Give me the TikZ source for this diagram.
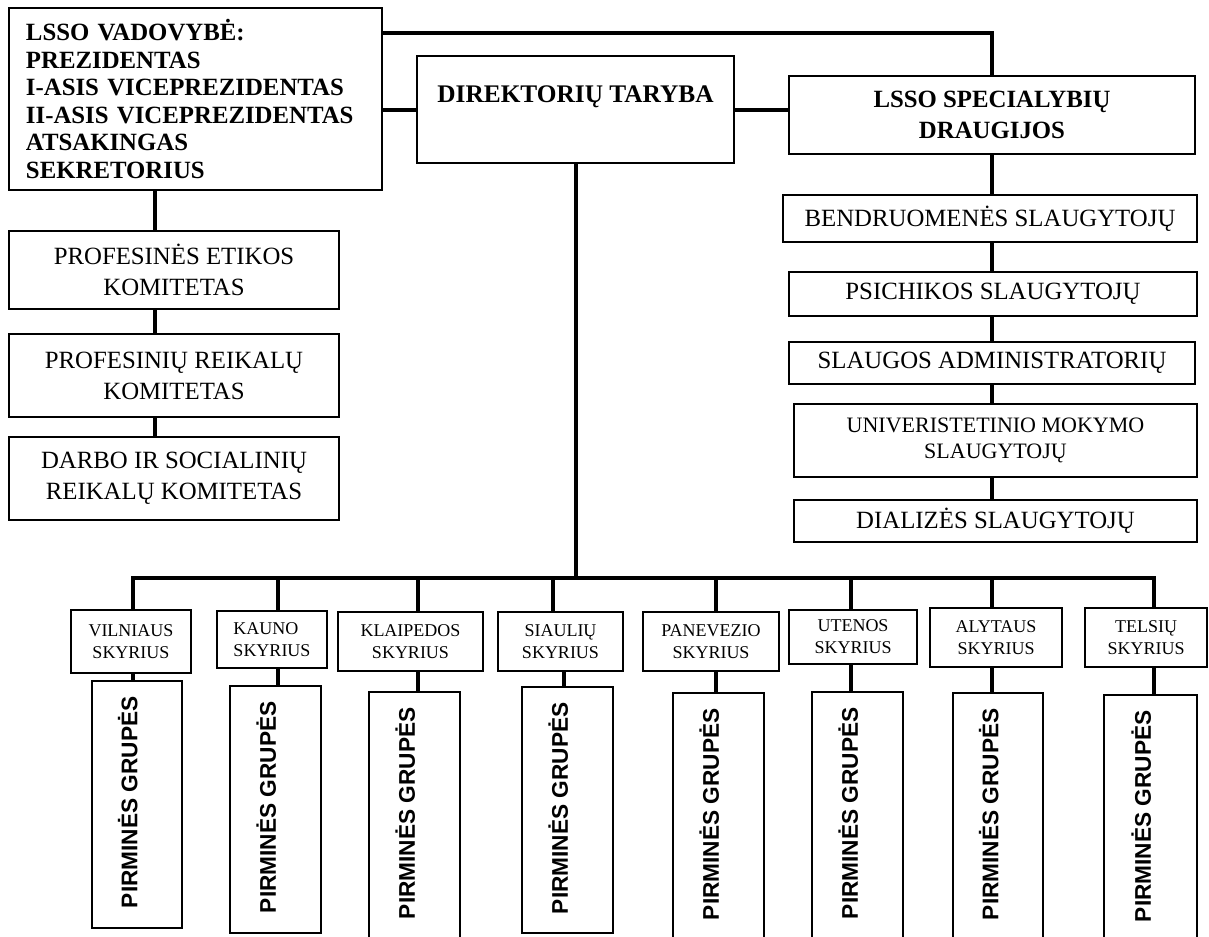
\documentclass[tikz,border=0pt]{standalone}
\usepackage{fontspec}
\setmainfont{Liberation Serif}
\newfontfamily\arialf{Liberation Sans}
\newcommand\boxat[7][]{\node[bx,minimum width={(#5-#3)*0.75pt},minimum height={(#6-#4)*0.75pt},#1] (#2) at ({(#3+#5)/2},{(#4+#6)/2}) {#7};}
\tikzset{
  bx/.style={draw=black, line width=1.1pt, inner sep=0pt, align=center},
  conn/.style={draw=black, line width=3pt, line join=miter},
  bigbold/.style={font=\fontsize{18.6pt}{23.25pt}\selectfont\bfseries},
  reg/.style={font=\fontsize{18.6pt}{23.25pt}\selectfont},
  small/.style={font=\fontsize{13.5pt}{16.5pt}\selectfont},
  rot/.style={font=\fontsize{17pt}{20pt}\arialf\bfseries, rotate=90, inner sep=0pt},
}
\begin{document}
\begin{tikzpicture}[x=0.75pt,y=-0.75pt]
\useasboundingbox (0,0) rectangle (1209,936);
\clip (0,0) rectangle (1209,936);

% top level
\boxat[text width={339*0.75pt}, align=left, font=\fontsize{18.6pt}{20.6pt}\selectfont\bfseries]{tl}{9}{8}{382}{190}{LSSO VADOVYBĖ:\\PREZIDENTAS\\I-ASIS VICEPREZIDENTAS\\II-ASIS VICEPREZIDENTAS\\ATSAKINGAS\\SEKRETORIUS}
\boxat{dt}{417}{56}{734}{163}{}
\node[font=\fontsize{19pt}{22pt}\selectfont\bfseries, inner sep=0pt] (dtt) at (575.5,97) {DIREKTORIŲ TARYBA};
\boxat[bigbold]{spec}{789}{76}{1195}{154}{LSSO SPECIALYBIŲ\\DRAUGIJOS}

% right column
\boxat[reg]{ben}{783}{195}{1197}{242}{BENDRUOMENĖS SLAUGYTOJŲ}
\boxat[reg]{psi}{789}{272}{1197}{316}{PSICHIKOS SLAUGYTOJŲ}
\boxat[reg]{adm}{789}{342}{1195}{384}{SLAUGOS ADMINISTRATORIŲ}
\boxat[font=\fontsize{16.5pt}{20pt}\selectfont]{uni}{794}{404}{1197}{477}{UNIVERISTETINIO MOKYMO\\SLAUGYTOJŲ}
\boxat[reg]{dia}{794}{500}{1197}{542}{DIALIZĖS SLAUGYTOJŲ}

% left column
\boxat[reg]{pe}{9}{231}{339}{309}{PROFESINĖS ETIKOS\\KOMITETAS}
\boxat[reg]{pr}{9}{334}{339}{417}{PROFESINIŲ REIKALŲ\\KOMITETAS}
\boxat[reg]{db}{9}{437}{339}{520}{DARBO IR SOCIALINIŲ\\REIKALŲ KOMITETAS}

% branches
\boxat[small]{v1}{71}{610}{191}{673}{VILNIAUS\\SKYRIUS}
\boxat[small,align=left]{v2}{217}{611}{327}{668}{KAUNO\\SKYRIUS}
\boxat[small]{v3}{338}{612}{483}{671}{KLAIPEDOS\\SKYRIUS}
\boxat[small]{v4}{498}{612}{623}{671}{SIAULIŲ\\SKYRIUS}
\boxat[small]{v5}{643}{612}{779}{671}{PANEVEZIO\\SKYRIUS}
\boxat[small]{v6}{789}{610}{917}{664}{UTENOS\\SKYRIUS}
\boxat[small]{v7}{930}{608}{1062}{667}{ALYTAUS\\SKYRIUS}
\boxat[small]{v8}{1085}{608}{1207}{667}{TELSIŲ\\SKYRIUS}

% primary groups
\boxat{p1}{92}{681}{182}{928}{}
\boxat{p2}{230}{686}{321}{933}{}
\boxat{p3}{369}{692}{460}{945}{}
\boxat{p4}{522}{687}{613}{933}{}
\boxat{p5}{673}{693}{764}{945}{}
\boxat{p6}{812}{692}{903}{945}{}
\boxat{p7}{953}{693}{1043}{945}{}
\boxat{p8}{1104}{695}{1197}{945}{}
\foreach \i in {1,...,8}{
  \node[rot] (g\i) at ([xshift=-7pt,yshift=-91.5pt]p\i.north) {PIRMINĖS GRUPĖS};
}

% connector coordinates
\coordinate (tj) at (991,32.5);
\coordinate (lc) at (155,200);
\coordinate (b1) at (133,578);
\coordinate (b2) at (278,578);
\coordinate (b3) at (418,578);
\coordinate (b4) at (553,578);
\coordinate (b5) at (716,578);
\coordinate (b6) at (851,578);
\coordinate (b7) at (992,578);
\coordinate (b8) at (1154,578);
\coordinate (d4) at (564,680);

% top connectors
\draw[conn] (tl.east |- tj) -| (spec.north);
\draw[conn] (tl.east |- dt.west) -- (dt.west);
\draw[conn] (dt.east) -- (dt.east -| spec.west);

% left column
\draw[conn] (tl.south -| lc) -- (pe.north -| lc);
\draw[conn] (pe.south -| lc) -- (pr.north -| lc);
\draw[conn] (pr.south -| lc) -- (db.north -| lc);

% right column
\draw[conn] (spec.south) -- (spec.south |- ben.north);
\draw[conn] (ben.south -| spec.south) -- (psi.north -| spec.south);
\draw[conn] (psi.south -| spec.south) -- (adm.north -| spec.south);
\draw[conn] (adm.south -| spec.south) -- (uni.north -| spec.south);
\draw[conn] (uni.south -| spec.south) -- (dia.north -| spec.south);

% bus
\draw[conn] (dt.south) -- (dt.south |- b1);
\draw[conn] (v1.north -| b1) -- (b1) -- (b8) -- (v8.north -| b8);
\foreach \i in {2,...,7}{
  \draw[conn] (b\i) -- (v\i.north -| b\i);
}
\foreach \i in {1,2,3,5,6,7,8}{
  \draw[conn] (v\i.south -| b\i) -- (p\i.north -| b\i);
}
\draw[conn] (v4.south -| d4) -- (p4.north -| d4);
\end{tikzpicture}
\end{document}
